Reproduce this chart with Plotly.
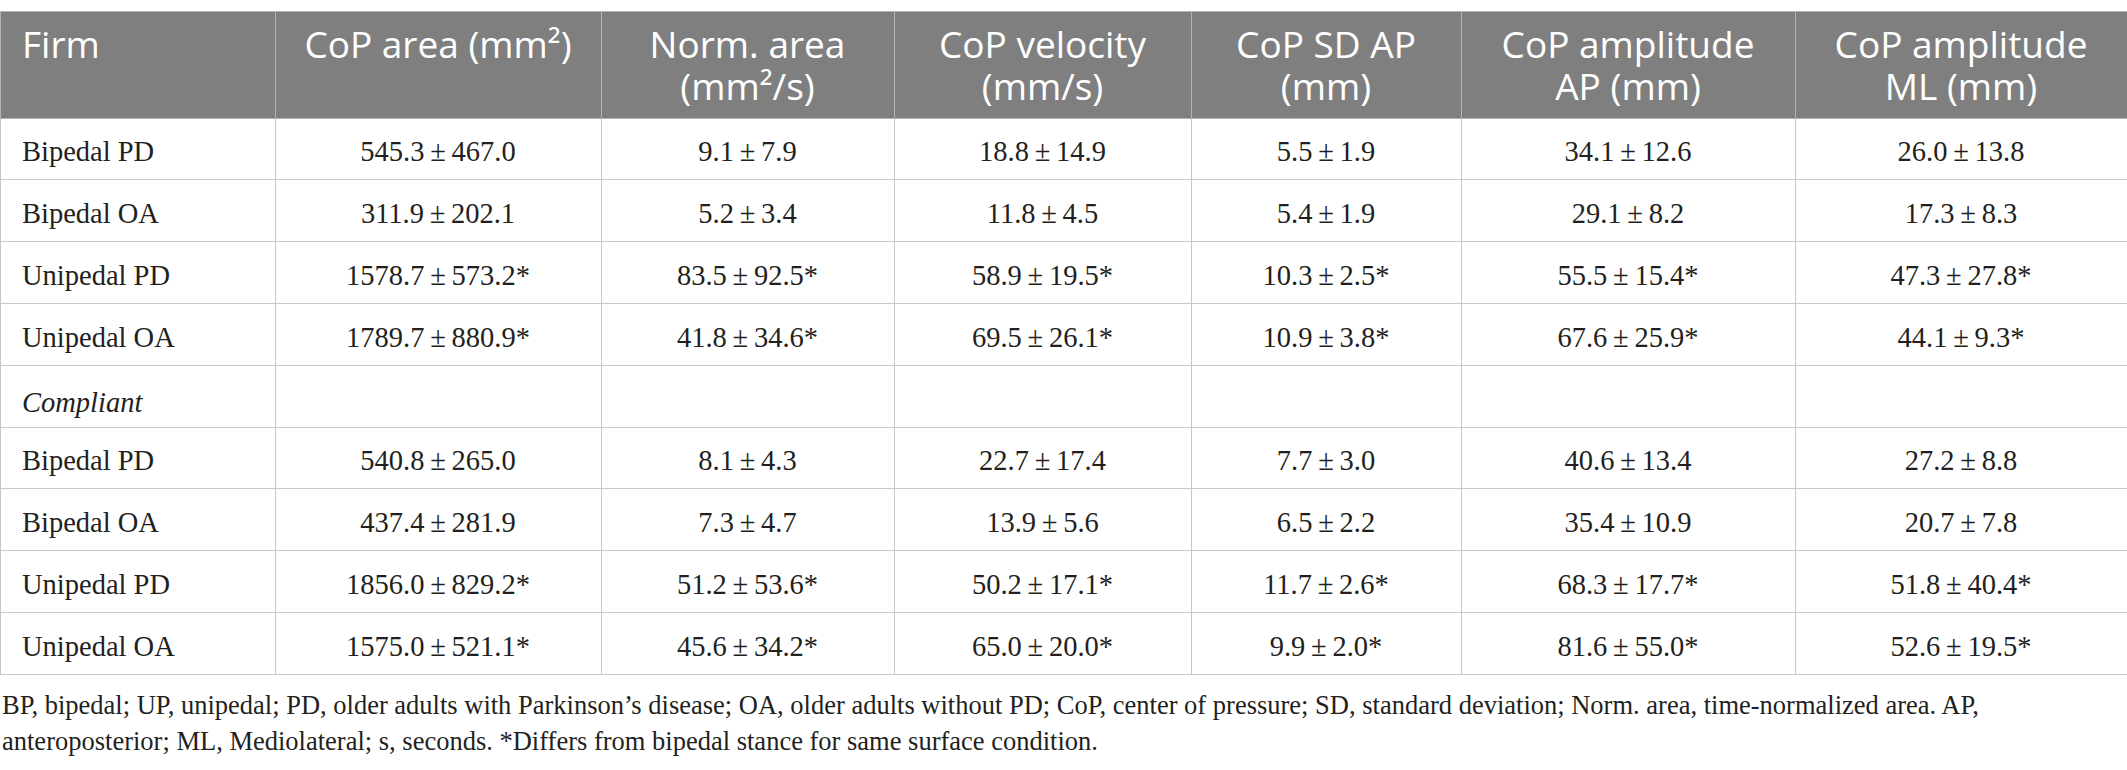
import plotly.graph_objects as go

# ---- table data ----
header_top = ["Firm", "CoP area (mm²)", "Norm. area", "CoP velocity",
              "CoP SD AP", "CoP amplitude", "CoP amplitude"]
header_bottom = ["", "", "(mm²/s)", "(mm/s)", "(mm)", "AP (mm)", "ML (mm)"]

groups = [
    "Bipedal PD", "Bipedal OA", "Unipedal PD", "Unipedal OA",
    "<i>Compliant</i>",
    "Bipedal PD", "Bipedal OA", "Unipedal PD", "Unipedal OA",
]

# mean, SD per variable (None = section row); star = differs from bipedal
area_mean = [545.3, 311.9, 1578.7, 1789.7, None, 540.8, 437.4, 1856.0, 1575.0]
area_sd = [467.0, 202.1, 573.2, 880.9, None, 265.0, 281.9, 829.2, 521.1]
norm_mean = [9.1, 5.2, 83.5, 41.8, None, 8.1, 7.3, 51.2, 45.6]
norm_sd = [7.9, 3.4, 92.5, 34.6, None, 4.3, 4.7, 53.6, 34.2]
vel_mean = [18.8, 11.8, 58.9, 69.5, None, 22.7, 13.9, 50.2, 65.0]
vel_sd = [14.9, 4.5, 19.5, 26.1, None, 17.4, 5.6, 17.1, 20.0]
sdap_mean = [5.5, 5.4, 10.3, 10.9, None, 7.7, 6.5, 11.7, 9.9]
sdap_sd = [1.9, 1.9, 2.5, 3.8, None, 3.0, 2.2, 2.6, 2.0]
ampap_mean = [34.1, 29.1, 55.5, 67.6, None, 40.6, 35.4, 68.3, 81.6]
ampap_sd = [12.6, 8.2, 15.4, 25.9, None, 13.4, 10.9, 17.7, 55.0]
ampml_mean = [26.0, 17.3, 47.3, 44.1, None, 27.2, 20.7, 51.8, 52.6]
ampml_sd = [13.8, 8.3, 27.8, 9.3, None, 8.8, 7.8, 40.4, 19.5]
star = [False, False, True, True, False, False, False, True, True]

footnote = [
    "BP, bipedal; UP, unipedal; PD, older adults with Parkinson’s disease; OA, older adults without PD; "
    "CoP, center of pressure; SD, standard deviation; Norm. area, time-normalized area. AP,",
    "anteroposterior; ML, Mediolateral; s, seconds. *Differs from bipedal stance for same surface condition.",
]


def fmt(means, sds):
    out = []
    for m, s, st in zip(means, sds, star):
        if m is None:
            out.append("")
        else:
            out.append(f"{m:.1f}\u2009±\u2009{s:.1f}" + ("*" if st else ""))
    return out


body = [groups,
        fmt(area_mean, area_sd), fmt(norm_mean, norm_sd), fmt(vel_mean, vel_sd),
        fmt(sdap_mean, sdap_sd), fmt(ampap_mean, ampap_sd), fmt(ampml_mean, ampml_sd)]

col_widths = [275, 326, 293, 297, 270, 334, 332]

W, H = 2127, 770
TOP = 11          # table top edge, px
HEAD_H = 107
ROW_H = 61.8
DROP_HEAD = 11    # header text offset below the header top
DROP_BODY = 14    # body text offset below each row top
LINE_GAP = 42     # distance between the two header lines
INDENT = 14       # extra left indent of the first column text
LINE = "#c8c8c8"
CLEAR = "rgba(0,0,0,0)"
aligns = ["left"] + ["center"] * 6
head_font = dict(family="Open Sans", size=37, color="white")
n = len(groups)

# text layers start INDENT px to the right, first column shrinks so borders still line up
text_x = [INDENT / W, 1]
text_widths = [col_widths[0] - INDENT] + col_widths[1:]

fig = go.Figure()

# grid: fills and rules only
fig.add_trace(go.Table(
    columnwidth=col_widths,
    domain=dict(x=[0, 1], y=[0.02, 1 - TOP / H]),
    header=dict(values=[""] * 7, fill_color="#7f7f7f",
                line=dict(color="#b4b4b4", width=1), height=HEAD_H),
    cells=dict(values=[[""] * n for _ in body], fill_color="white",
               line=dict(color=LINE, width=1), height=ROW_H),
))

# first header line + body text
fig.add_trace(go.Table(
    columnwidth=text_widths,
    domain=dict(x=text_x, y=[0, 1 - (TOP + DROP_HEAD) / H]),
    header=dict(values=header_top,
                fill_color=CLEAR, line=dict(color=CLEAR, width=0),
                align=aligns, font=head_font,
                height=HEAD_H + DROP_BODY - DROP_HEAD),
    cells=dict(values=body,
               fill_color=CLEAR, line=dict(color=CLEAR, width=0),
               align=aligns,
               font=dict(family="Liberation Serif", size=28.5, color="#231f20"),
               height=ROW_H),
))

# second header line
fig.add_trace(go.Table(
    columnwidth=text_widths,
    domain=dict(x=text_x, y=[0, 1 - (TOP + DROP_HEAD + LINE_GAP) / H]),
    header=dict(values=header_bottom, fill_color=CLEAR,
                line=dict(color=CLEAR, width=0),
                align=aligns, font=head_font, height=HEAD_H - LINE_GAP),
    cells=dict(values=[[""] for _ in body], fill_color=CLEAR,
               line=dict(color=CLEAR, width=0), height=ROW_H),
))

for i, line in enumerate(footnote):
    fig.add_annotation(
        x=0, y=1 - (705 + i * 36) / H, xref="paper", yref="paper",
        xanchor="left", yanchor="middle", showarrow=False, align="left",
        text=line, font=dict(family="Liberation Serif", size=26.5, color="#231f20"),
    )

fig.update_layout(
    width=W, height=H,
    margin=dict(l=0, r=0, t=0, b=0),
    paper_bgcolor="white",
)

fig.write_html("out.html", config={"displayModeBar": False},
               post_script="document.body.style.margin = '0';")
